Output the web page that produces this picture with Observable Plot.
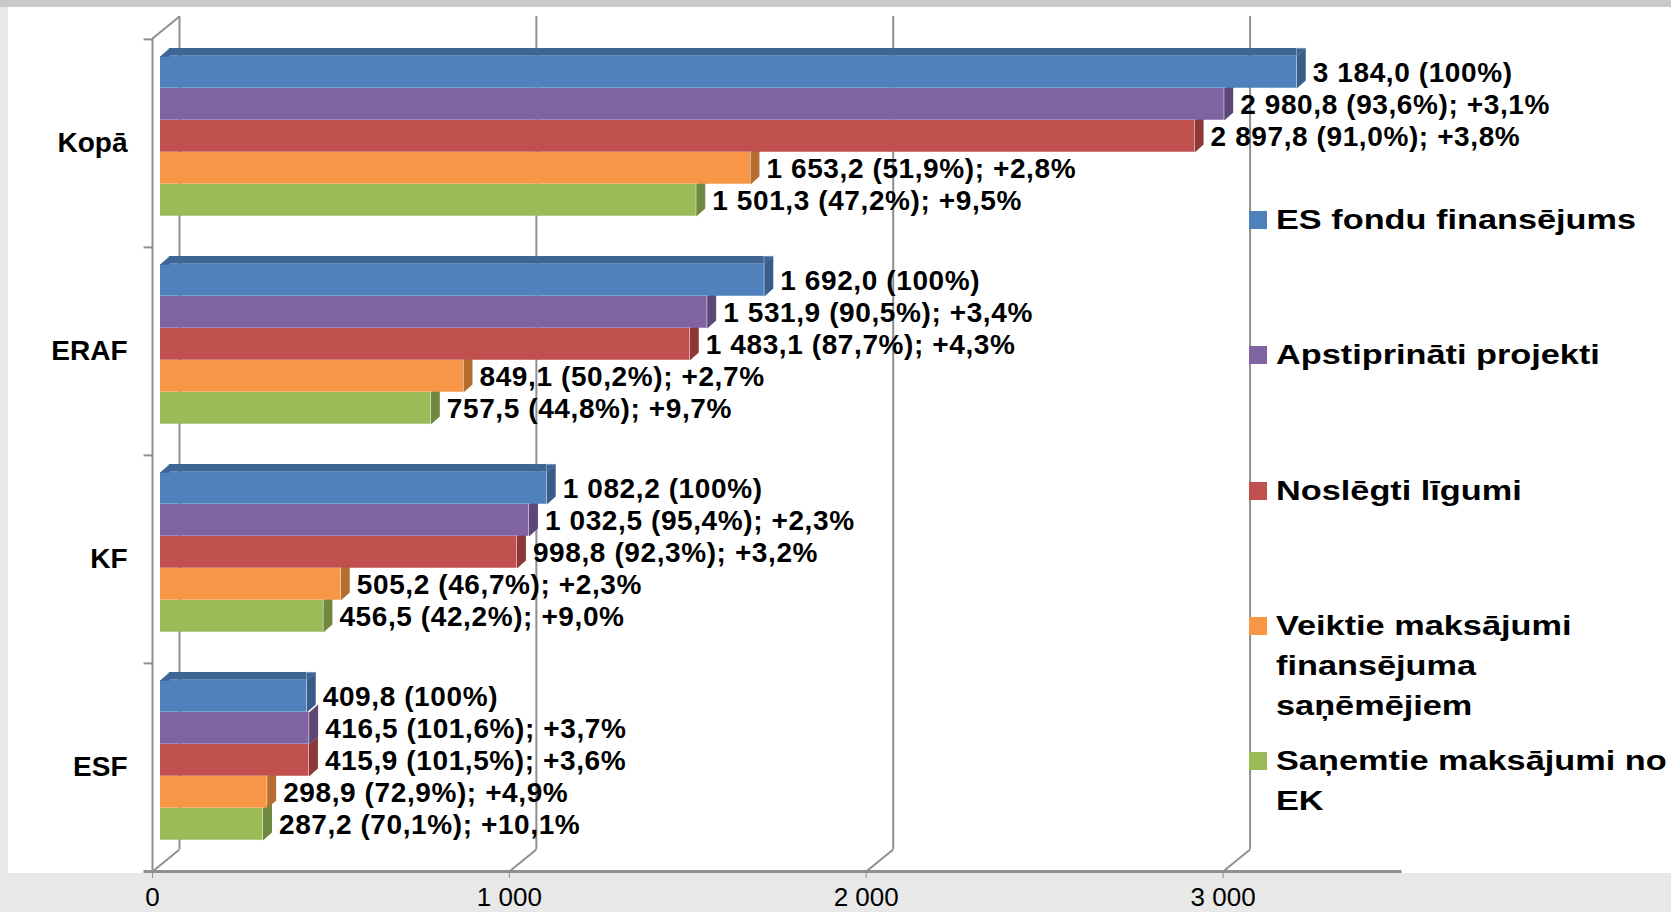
<!DOCTYPE html>
<html>
<head>
<meta charset="utf-8">
<script src="https://cdn.jsdelivr.net/npm/d3@7"></script>
<script src="https://cdn.jsdelivr.net/npm/@observablehq/plot@0.6"></script>
<style>
html,body{margin:0;padding:0;background:#e8e8e8;overflow:hidden;}
#wrap{position:relative;width:1671px;height:912px;font-family:"Liberation Sans",Arial,sans-serif;}
#topstrip{position:absolute;left:0;top:0;width:1671px;height:7px;background:#c9c9c9;}
#panel{position:absolute;left:8px;top:7px;width:1663px;height:866px;background:#ffffff;}
#chart{position:absolute;left:0;top:0;}
#legend{position:absolute;left:1249px;top:0;}
.item{position:absolute;left:0;}
.sw{position:absolute;left:0;top:11px;width:18px;height:18px;}
.lt{position:absolute;left:27px;top:0;font-size:27px;font-weight:bold;line-height:40px;white-space:pre;transform:scaleX(1.27);transform-origin:0 0;color:#000;}
g[aria-label="text"] text{letter-spacing:0.6px;}
</style>
</head>
<body>
<div id="wrap">
  <div id="topstrip"></div>
  <div id="panel"></div>
  <div id="chart"></div>
  <div id="legend"></div>
</div>
<script>
// ---------- DATA ----------
const categories = ["Kopā", "ERAF", "KF", "ESF"];
const seriesNames = [
  "ES fondu finansējums",
  "Apstiprināti projekti",
  "Noslēgti līgumi",
  "Veiktie maksājumi finansējuma saņēmējiem",
  "Saņemtie maksājumi no EK"
];
const legendLabels = [
  "ES fondu finansējums",
  "Apstiprināti projekti",
  "Noslēgti līgumi",
  "Veiktie maksājumi\nfinansējuma\nsaņēmējiem",
  "Saņemtie maksājumi no\nEK"
];
const fonduValues = [3184.0, 1692.0, 1082.2, 409.8];
const fonduPct    = [100, 100, 100, 100];
const apstValues  = [2980.8, 1531.9, 1032.5, 416.5];
const apstPct     = [93.6, 90.5, 95.4, 101.6];
const apstChange  = [3.1, 3.4, 2.3, 3.7];
const noslValues  = [2897.8, 1483.1, 998.8, 415.9];
const noslPct     = [91.0, 87.7, 92.3, 101.5];
const noslChange  = [3.8, 4.3, 3.2, 3.6];
const veikValues  = [1653.2, 849.1, 505.2, 298.9];
const veikPct     = [51.9, 50.2, 46.7, 72.9];
const veikChange  = [2.8, 2.7, 2.3, 4.9];
const sanValues   = [1501.3, 757.5, 456.5, 287.2];
const sanPct      = [47.2, 44.8, 42.2, 70.1];
const sanChange   = [9.5, 9.7, 9.0, 10.1];
const xTicks = [0, 1000, 2000, 3000];

// ---------- STYLE ----------
const FRONT = ["#4F81BD", "#8064A2", "#C0504D", "#F79646", "#9BBB59"];
const SIDE  = ["#385D8A", "#5C4776", "#8C3836", "#B66D31", "#71893F"];
const TOP   = "#3E6594";
const GRID  = "#8f8f8f";

const loc = d3.formatLocale({decimal: ",", thousands: " ", grouping: [3], currency: ["", ""]});
const fmt1 = loc.format(",.1f");
const fmtInt = loc.format(",");

const seriesData = [
  {values: fonduValues, pct: fonduPct, change: null},
  {values: apstValues, pct: apstPct, change: apstChange},
  {values: noslValues, pct: noslPct, change: noslChange},
  {values: veikValues, pct: veikPct, change: veikChange},
  {values: sanValues, pct: sanPct, change: sanChange}
];
const rowsBySeries = seriesData.map((s, i) => categories.map((c, j) => ({
  series: seriesNames[i],
  cat: c,
  value: s.values[j],
  label: `${fmt1(s.values[j])} (${s.pct[j] === 100 ? "100" : fmt1(s.pct[j])}%)` +
         (s.change ? `; +${fmt1(s.change[j])}%` : "")
})));

// ---------- LAYOUT ----------
const W = 1671, H = 912, mT = 38, mB = 41, mL = 152, mR = 270;
const bw = (H - mT - mB) / categories.length;
const BH = 32, OFF = 17, D = 9, E = 8;       // bar height, offset in band, 3D depth
const GD = 27, GE = 22;                       // wall depth
const plotW = W - mL - mR;

const poly = pts => ({draw(ctx) { ctx.moveTo(pts[0][0], pts[0][1]); for (let k = 1; k < pts.length; k++) ctx.lineTo(pts[k][0], pts[k][1]); ctx.closePath(); }});
const seg = (a, b) => ({draw(ctx) { ctx.moveTo(a[0], a[1]); ctx.lineTo(b[0], b[1]); }});

const marks = [];
// back wall gridlines
marks.push(Plot.ruleX(xTicks, {x: d => d, dx: GD, dy: -GE, stroke: GRID, strokeWidth: 2}));
// floor diagonals
marks.push(Plot.dot(xTicks, {x: d => d, frameAnchor: "bottom", symbol: seg([0, 0], [GD, -GE]), fill: "none", stroke: GRID, strokeWidth: 2}));
// left wall top diagonal
marks.push(Plot.dot([0], {x: d => d, frameAnchor: "top", symbol: seg([0, 0], [GD, -GE]), fill: "none", stroke: GRID, strokeWidth: 2}));
// front left axis line
marks.push(Plot.ruleX([0], {x: d => d, stroke: GRID, strokeWidth: 2}));
// category boundary ticks
marks.push(Plot.dot(categories, {x: () => 0, y: d => d, symbol: seg([-9, -bw / 2], [0, -bw / 2]), fill: "none", stroke: GRID, strokeWidth: 2}));
// floor line
marks.push(Plot.dot([0], {x: d => d, frameAnchor: "bottom", symbol: seg([-9, 0], [plotW, 0]), fill: "none", stroke: GRID, strokeWidth: 3}));

// bars (bottom series first so upper bars overlay)
for (let i = seriesNames.length - 1; i >= 0; i--) {
  const rows = rowsBySeries[i];
  marks.push(Plot.barX(rows, {
    x: "value", y: "cat", fill: FRONT[i], dx: 8,
    insetTop: OFF + BH * i, insetBottom: bw - OFF - BH * (i + 1)
  }));
  marks.push(Plot.dot(rows, {
    x: "value", y: "cat", dx: 8, dy: OFF + BH * i + BH / 2 - bw / 2,
    symbol: poly([[0, -BH / 2], [D, -BH / 2 - E], [D, BH / 2 - E], [0, BH / 2]]),
    fill: SIDE[i], stroke: "none"
  }));
}
// top face of the first series
marks.push(Plot.barX(rowsBySeries[0], {
  x: "value", y: "cat", fill: TOP, dx: 8, insetLeft: D,
  insetTop: OFF - E, insetBottom: bw - OFF
}));
marks.push(Plot.dot(rowsBySeries[0], {
  x: () => 0, y: "cat", dx: 8, dy: OFF - bw / 2,
  symbol: poly([[0, 0], [D, -E], [D, 0]]), fill: TOP, stroke: TOP, strokeWidth: 0.5
}));
marks.push(Plot.dot(rowsBySeries[0], {
  x: "value", y: "cat", dx: 8, dy: OFF - bw / 2,
  symbol: poly([[0, 0], [0, -E], [D, -E]]), fill: TOP, stroke: TOP, strokeWidth: 0.5
}));

// value labels
for (let i = 0; i < seriesNames.length; i++) {
  marks.push(Plot.text(rowsBySeries[i], {
    x: "value", y: "cat", text: "label", dx: 24, dy: OFF + BH * i + BH / 2 - bw / 2 + 1,
    textAnchor: "start", fontSize: 28, fontWeight: "bold", fill: "#000"
  }));
}

// axes
marks.push(Plot.axisX({ticks: xTicks, tickFormat: fmtInt, tickSize: 7, tickPadding: 9, fontSize: 26, stroke: GRID, fill: "#000", label: null}));
marks.push(Plot.axisY({tickSize: 0, tickPadding: 25, fontSize: 28, fontWeight: "bold", fill: "#000", label: null}));

const chart = Plot.plot({
  width: W, height: H,
  marginTop: mT, marginBottom: mB, marginLeft: mL, marginRight: mR,
  x: {domain: [0, 3500], label: null},
  y: {type: "band", domain: categories, padding: 0, label: null},
  style: {background: "transparent", fontFamily: '"Liberation Sans", Arial, sans-serif', overflow: "visible"},
  marks
});
document.getElementById("chart").appendChild(chart);

// legend
const legend = document.getElementById("legend");
legendLabels.forEach((lab, i) => {
  const item = document.createElement("div");
  item.className = "item";
  item.style.top = (200 + i * 135.3) + "px";
  const sw = document.createElement("div");
  sw.className = "sw";
  sw.style.background = FRONT[i];
  const t = document.createElement("div");
  t.className = "lt";
  t.textContent = lab;
  item.appendChild(sw);
  item.appendChild(t);
  legend.appendChild(item);
});
</script>
</body>
</html>
